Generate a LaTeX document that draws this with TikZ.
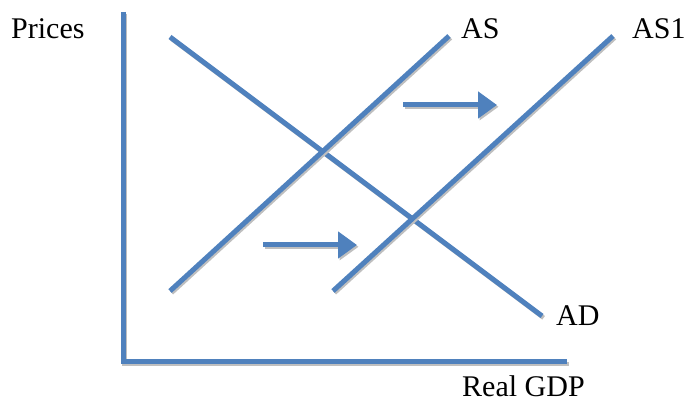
\documentclass[tikz,border=0pt]{standalone}
\usepackage{fontspec}
\setmainfont{Liberation Serif}
\usepackage{tikz}
\usetikzlibrary{arrows.meta}
\definecolor{curveblue}{HTML}{4F81BD}

\begin{document}
\begin{tikzpicture}[x=1pt,y=-1pt,
  curve/.style={line width=5pt,draw=curveblue,
    preaction={draw=gray!50,line width=4.5pt,transform canvas={shift={(1.6pt,-1.8pt)}}}},
  shiftarrow/.style={curve,-{Triangle[length=19pt,width=26pt]}},
  lbl/.style={anchor=base west,inner sep=0pt,font=\fontsize{30}{36}\selectfont}]
\useasboundingbox (0,0) rectangle (689,403);
\coordinate (yTop) at (123,12);
\coordinate (origin) at (123,362);
\coordinate (xEnd) at (567,362);
\draw[curve] (yTop) -- (origin) -- (xEnd);
\coordinate (adTop) at (170,37);
\coordinate (adBot) at (542,316);
\coordinate (asBot) at (170,291);
\coordinate (asTop) at (449,36);
\coordinate (asOneBot) at (333,291);
\coordinate (asOneTop) at (613,36);
\draw[curve] (adTop) -- (adBot);
\draw[curve] (asBot) -- (asTop);
\draw[curve] (asOneBot) -- (asOneTop);
\coordinate (upFrom) at (403,105);
\coordinate (upTo) at (497,105);
\coordinate (lowFrom) at (263,245);
\coordinate (lowTo) at (357,245);
\draw[shiftarrow] (upFrom) -- (upTo);
\draw[shiftarrow] (lowFrom) -- (lowTo);
\node[lbl] (prices) at (11,39) {Prices};
\node[lbl] (asLabel) at (461,39) {AS};
\node[lbl] (asOneLabel) at (632,39) {AS1};
\node[lbl] (adLabel) at (556,326) {AD};
\node[lbl] (gdpLabel) at (462,397) {Real GDP};
\end{tikzpicture}
\end{document}
